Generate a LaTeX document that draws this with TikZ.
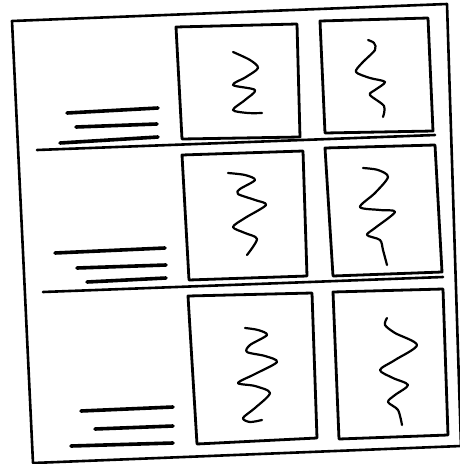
\documentclass[tikz,border=0pt]{standalone}
\begin{document}
\begin{tikzpicture}[x=1pt,y=-1pt,
  frameline/.style={line width=2.6pt,line join=round,line cap=round},
  panel/.style={line width=2.8pt,line join=round,line cap=round},
  textbar/.style={line width=3.6pt,line cap=round},
  squig/.style={line width=2.2pt,line cap=round,line join=round}]
\useasboundingbox (0,0) rectangle (460,464);
\fill[white] (0,0) rectangle (460,464);
% outer frame
\draw[frameline] (12,21) -- (447,4) -- (461,446) -- (33,463) -- cycle;
% row separators
\draw[frameline] (37,150) -- (435,135);
\draw[frameline] (43,292) -- (443,277);
% row 1 panels
\draw[panel] (176,27) -- (297,24) -- (300,137) -- (182,139) -- cycle;
\draw[panel] (320,21) -- (428,18) -- (433,131) -- (325,133) -- cycle;
% row 2 panels
\draw[panel] (182,155) -- (303,151) -- (307,276) -- (189,280) -- cycle;
\draw[panel] (325,148) -- (435,145) -- (442,272) -- (333,276) -- cycle;
% row 3 panels
\draw[panel] (188,296) -- (312,293) -- (317,438) -- (197,444) -- cycle;
\draw[panel] (333,292) -- (443,289) -- (448,435) -- (339,439) -- cycle;
% text bars row 1
\draw[textbar] (67,113) -- (158,108);
\draw[textbar] (76,127) -- (157,124);
\draw[textbar] (60,143) -- (158,137);
% text bars row 2
\draw[textbar] (55,253) -- (165,248);
\draw[textbar] (77,268) -- (166,265);
\draw[textbar] (87,282) -- (166,278);
% text bars row 3
\draw[textbar] (81,411) -- (173,407);
\draw[textbar] (95,429) -- (173,426);
\draw[textbar] (71,446) -- (173,443);
% squiggles
\draw[squig] plot[smooth,tension=0.5] coordinates {(233,52) (250,60) (258,68) (246,77) (233,85) (255,90) (245,100) (233,110) (248,113) (262,113)};
\draw[squig] plot[smooth,tension=0.5] coordinates {(368,40) (374,43) (375,50) (362,63) (356,72) (370,78) (385,82) (375,90) (370,95) (384,106) (383,117)};
\draw[squig] plot[smooth,tension=0.5] coordinates {(228,173) (245,175) (255,180) (240,189) (238,194) (255,200) (266,205) (245,218) (233,227) (245,233) (257,239) (247,255)};
\draw[squig] plot[smooth,tension=0.5] coordinates {(363,168) (378,170) (388,177) (375,193) (360,207) (380,210) (395,212) (375,228) (367,235) (380,240) (383,250) (387,265)};
\draw[squig] plot[smooth,tension=0.5] coordinates {(245,328) (258,330) (267,335) (250,345) (247,352) (265,356) (277,362) (255,374) (238,383) (255,386) (270,393) (255,408) (243,418) (250,422) (262,420)};
\draw[squig] plot[smooth,tension=0.5] coordinates {(387,318) (385,325) (395,333) (417,345) (395,360) (380,370) (393,378) (408,385) (395,395) (388,402) (398,410) (402,425)};
\end{tikzpicture}
\end{document}
